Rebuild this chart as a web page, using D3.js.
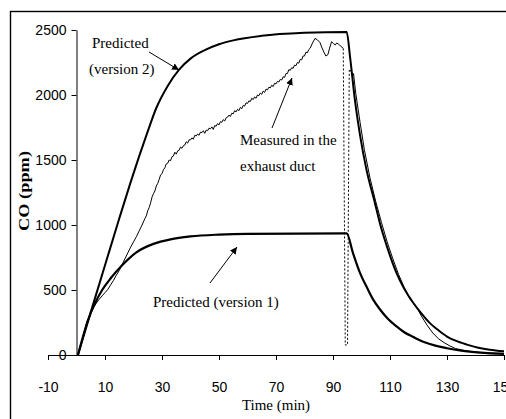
<!DOCTYPE html>
<html lang="en">
<head>
<meta charset="utf-8">
<script src="https://d3js.org/d3.v7.min.js"></script>
<style>
  body { margin: 0; background: #fff; }
  .tick text { font-family: "Liberation Sans", Arial, sans-serif; font-size: 14px; }
  .note { font-family: "Liberation Serif", "Times New Roman", serif; font-size: 15px; }
</style>
</head>
<body>
<svg width="506" height="419"></svg>
<script>
// tick values (min / ppm)
var xTicks = [-10, 10, 30, 50, 70, 90, 110, 130, 150];
var yTicks = [0, 500, 1000, 1500, 2000, 2500];

// predicted, version 1  [time, ppm]
var predictedV1 = [
  [0.5, 0], [4, 265], [9, 500], [12, 590], [16, 690], [21, 790], [27, 855],
  [33, 890], [40, 912], [50, 926], [60, 932], [94.8, 935],
  [97, 785], [99.5, 630], [102, 515], [104, 430], [106.5, 350], [109, 285],
  [112.3, 220], [115, 175], [118.2, 138], [121, 108], [124, 85], [127, 66],
  [130, 52], [135, 34], [141.6, 19], [150, 9]
];

// predicted, version 2
var predictedV2 = [
  [0.5, 0], [5, 330], [10, 690], [15, 1050], [19, 1330], [22, 1530], [25, 1720],
  [28, 1900], [32, 2070], [36, 2195], [40, 2280], [45, 2345], [50, 2390],
  [55, 2420], [65, 2455], [80, 2478], [94.8, 2485],
  [96, 2290], [97.7, 1960], [99.5, 1690], [101.8, 1420], [104.7, 1170],
  [106.5, 1010], [109, 830], [112.3, 630], [115, 510], [118.2, 400], [121, 320],
  [124, 245], [127, 190], [130, 142], [133, 110], [137, 80], [141, 56],
  [145, 40], [150, 28]
];

// measured in the exhaust duct
var measured = [
  [0.5, 0], [1.5, 70], [2.5, 160], [3.7, 260], [5, 320], [6, 365], [7, 400],
  [8, 430], [9, 455], [10, 480], [11, 505], [12, 540], [13, 575], [14, 615],
  [15, 650], [16, 695], [17, 740], [18, 785], [19, 830], [20, 870], [21, 910],
  [22, 955], [23, 1000], [24, 1050], [24.5, 1070], [25, 1110], [25.5, 1135],
  [26, 1170], [26.5, 1215], [27, 1240], [27.5, 1262], [28, 1300], [28.5, 1320],
  [29, 1350], [29.5, 1385], [30, 1395], [30.5, 1425], [31, 1440], [31.5, 1470],
  [32, 1475], [32.5, 1500], [33, 1495], [33.5, 1525], [34, 1530], [34.5, 1560],
  [35, 1545], [35.5, 1570], [36, 1575], [36.5, 1600], [37, 1590], [37.5, 1610],
  [38, 1615], [38.5, 1640], [39, 1630], [39.5, 1655], [40, 1655], [40.5, 1670],
  [41, 1660], [41.5, 1690], [42, 1685], [42.5, 1700], [43, 1690], [43.5, 1715],
  [44, 1710], [44.5, 1725], [45, 1705], [45.5, 1730], [46, 1725], [46.5, 1745],
  [47, 1740], [47.5, 1755], [48, 1735], [48.5, 1765], [49, 1760], [49.5, 1780],
  [50, 1770], [50.5, 1795], [51, 1790], [51.5, 1810], [52, 1800], [52.5, 1825],
  [53, 1830], [53.5, 1845], [54, 1835], [54.5, 1860], [55, 1855], [55.5, 1880],
  [56, 1870], [56.5, 1890], [57, 1880], [57.5, 1905], [58, 1895], [58.5, 1920],
  [59, 1915], [59.5, 1940], [60, 1935], [60.5, 1955], [61, 1950], [61.5, 1975],
  [62, 1965], [62.5, 1985], [63, 1975], [63.5, 2000], [64, 1995], [64.5, 2015],
  [65, 2005], [65.5, 2030], [66, 2020], [66.5, 2045], [67, 2040], [67.5, 2060],
  [68, 2055], [68.5, 2075], [69, 2065], [69.5, 2090], [70, 2085], [70.5, 2105],
  [71, 2100], [71.5, 2120], [72, 2115], [72.5, 2140], [73, 2135], [73.5, 2165],
  [74, 2165], [74.5, 2195], [75, 2190], [75.5, 2210], [76, 2205], [76.5, 2230],
  [77, 2225], [77.5, 2250], [78, 2245], [78.5, 2275], [79, 2270], [79.5, 2300],
  [80, 2300], [80.5, 2330], [81, 2325], [81.5, 2350], [82, 2360], [82.8, 2400],
  [83.7, 2435], [84.5, 2425], [85.4, 2405], [86, 2370], [86.8, 2330],
  [87.5, 2300], [88.2, 2310], [88.8, 2360], [89.5, 2410], [90.2, 2395],
  [90.8, 2385], [91.3, 2400], [92, 2390], [92.8, 2375], [93.6, 2358]
];
// the short dotted dip around 95 min
var measuredGap = [[93.6, 2358], [94.3, 77], [95.1, 77], [95.7, 2190]];
var measuredDecay = [
  [95.7, 2190], [96.4, 2185], [96.8, 2150], [97.2, 2165], [98, 2010],
  [99.5, 1790], [101, 1580], [103, 1360], [105, 1180], [107, 1020], [109, 870],
  [111, 740], [113, 620], [115, 520], [117, 430], [119.4, 365], [121, 300],
  [123, 230], [125, 170], [127, 125], [129, 95], [131, 70], [133, 50],
  [136, 35], [139, 25], [143, 18], [147, 14], [150, 12]
];

var svg = d3.select("svg");

// outer frame
svg.append("rect")
    .attr("x", 10.5).attr("y", 11.5)
    .attr("width", 510).attr("height", 430)
    .attr("fill", "none").attr("stroke", "#000").attr("stroke-width", 1.4);

var x = d3.scaleLinear().domain([-10, 150]).range([48, 504]);
var y = d3.scaleLinear().domain([0, 2500]).range([355, 30]);

// axes, plain labels (no thousands separator, ascii minus)
var gx = svg.append("g")
    .attr("transform", "translate(0," + y(0) + ")")
    .call(d3.axisBottom(x).tickValues(xTicks).tickFormat(String)
        .tickSize(5).tickSizeOuter(0).tickPadding(22));
var gy = svg.append("g")
    .attr("transform", "translate(" + x(0) + ",0)")
    .call(d3.axisLeft(y).tickValues(yTicks).tickFormat(String)
        .tickSize(5).tickSizeOuter(0).tickPadding(5));
svg.selectAll(".domain, .tick line").attr("stroke", "#000");
svg.selectAll(".tick text").attr("fill", "#000").attr("font-family", null).attr("font-size", null);

// axis titles
svg.append("text")
    .attr("class", "note")
    .attr("x", 276).attr("y", 410)
    .attr("text-anchor", "middle")
    .text("Time (min)");
svg.append("text")
    .attr("class", "note")
    .attr("transform", "translate(29,191) rotate(-90)")
    .attr("text-anchor", "middle")
    .attr("font-weight", "bold")
    .attr("font-size", 14)
    .attr("textLength", 80)
    .attr("lengthAdjust", "spacingAndGlyphs")
    .text("CO (ppm)");

var smooth = d3.line().x(function (d) { return x(d[0]); }).y(function (d) { return y(d[1]); })
    .curve(d3.curveMonotoneX);
var rough = d3.line().x(function (d) { return x(d[0]); }).y(function (d) { return y(d[1]); });

svg.append("path").datum(measured)
    .attr("d", rough).attr("fill", "none").attr("stroke", "#000").attr("stroke-width", 1);
svg.append("path").datum(measuredDecay)
    .attr("d", rough).attr("fill", "none").attr("stroke", "#000").attr("stroke-width", 1);
svg.append("path").datum(measuredGap)
    .attr("d", rough).attr("fill", "none").attr("stroke", "#000").attr("stroke-width", 1)
    .attr("stroke-dasharray", "2,2");

svg.append("path").datum(predictedV1)
    .attr("d", smooth).attr("fill", "none").attr("stroke", "#000").attr("stroke-width", 2.2);
svg.append("path").datum(predictedV2)
    .attr("d", smooth).attr("fill", "none").attr("stroke", "#000").attr("stroke-width", 2);

// arrow head
svg.append("defs").append("marker")
    .attr("id", "head")
    .attr("viewBox", "0 0 10 10")
    .attr("refX", 10).attr("refY", 5)
    .attr("markerWidth", 7).attr("markerHeight", 7)
    .attr("markerUnits", "userSpaceOnUse")
    .attr("orient", "auto")
    .append("path").attr("d", "M0,0 L10,5 L0,10 Z").attr("fill", "#000");

// annotations
var notes = [
  { lines: ["Predicted", "(version 2)"], xs: [92, 89], y: 48, arrow: [149, 52, 179, 70] },
  { lines: ["Measured in the", "exhaust duct"], xs: [240, 240], y: 145, arrow: [272, 128, 292, 78] },
  { lines: ["Predicted (version 1)"], xs: [153], y: 307, arrow: [210, 283, 237, 247] }
];
notes.forEach(function (n) {
  n.lines.forEach(function (s, i) {
    svg.append("text").attr("class", "note")
        .attr("x", n.xs[i]).attr("y", n.y + i * 26)
        .text(s);
  });
  svg.append("line")
      .attr("x1", n.arrow[0]).attr("y1", n.arrow[1])
      .attr("x2", n.arrow[2]).attr("y2", n.arrow[3])
      .attr("stroke", "#000").attr("stroke-width", 1)
      .attr("marker-end", "url(#head)");
});
</script>
</body>
</html>
